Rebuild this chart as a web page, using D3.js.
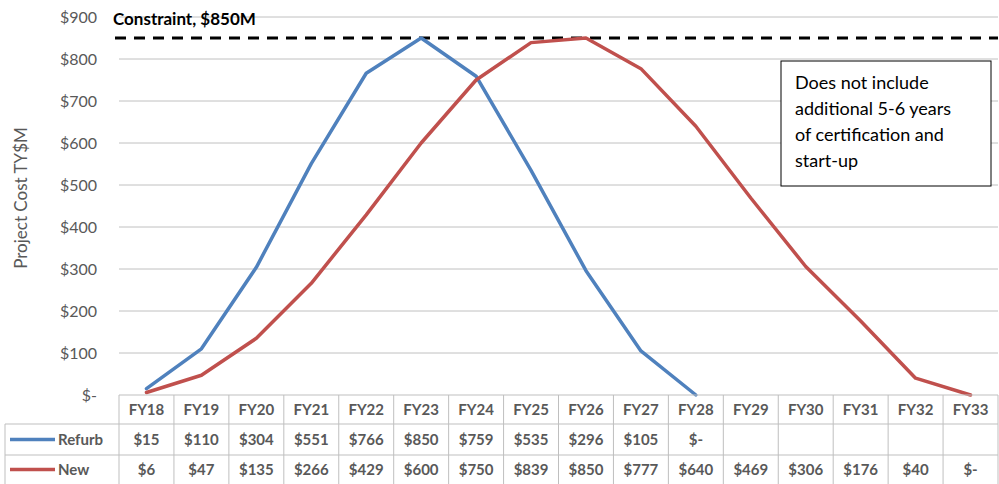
<!DOCTYPE html>
<html><head><meta charset="utf-8">
<script src="https://cdn.jsdelivr.net/npm/d3@7"></script>
<style>body{margin:0;background:#fff}svg{display:block}</style>
</head><body><svg id="c" width="999" height="484"></svg>
<script>
const categories = ["FY18","FY19","FY20","FY21","FY22","FY23","FY24","FY25","FY26","FY27","FY28","FY29","FY30","FY31","FY32","FY33"];
const refurb = [15,110,304,551,766,850,759,535,296,105,0,null,null,null,null,null];
const newVals = [6,47,135,266,429,600,750,839,850,777,640,469,306,176,40,0];
const yTicks = [0,100,200,300,400,500,600,700,800,900];
const constraint = 850;
const seriesNames = ["Refurb","New"];
const colors = ["#4F81BD","#C0504D"];
const note = ["Does not include","additional 5-6 years","of certification and","start-up"];

const svg = d3.select("#c");
const font = "Lato, 'Open Sans', sans-serif";
const L = 119, R = 998, T = 17, B = 395;
const x = d3.scaleBand().domain(categories).range([L, R]);
const y = d3.scaleLinear().domain([0, 900]).range([B, T]);
const grid = "#c0c0c0", gray = "#595959";

// horizontal gridlines
svg.append("g").selectAll("line").data(yTicks.filter(d => d > 0)).join("line")
  .attr("x1", L).attr("x2", R).attr("y1", d => y(d)).attr("y2", d => y(d))
  .attr("stroke", grid).attr("stroke-width", 1);

// y axis labels
const fmt = d => d === 0 ? "$-" : "$" + d;
svg.append("g").selectAll("text").data(yTicks).join("text")
  .attr("x", 97).attr("y", d => y(d)).attr("dy", "0.35em")
  .attr("text-anchor", "end").attr("fill", gray)
  .attr("font-family", font).attr("font-size", 16).text(fmt);

svg.append("text").attr("transform", `translate(27,198) rotate(-90)`)
  .attr("text-anchor", "middle").attr("fill", gray)
  .attr("font-family", font).attr("font-size", 17).text("Project Cost TY$M");

// constraint line
svg.append("line").attr("x1", 115).attr("x2", R).attr("y1", y(constraint)).attr("y2", y(constraint))
  .attr("stroke", "#000").attr("stroke-width", 3).attr("stroke-dasharray", "11,8");
svg.append("text").attr("x", 113).attr("y", 25).attr("font-family", font)
  .attr("font-size", 17).attr("font-weight", "bold").attr("fill", "#000").text("Constraint, $850M");

// lines
const cx = d => x(d) + x.bandwidth() / 2;
const line = d3.line().defined(d => d.v !== null).x(d => cx(d.c)).y(d => y(d.v));
[refurb, newVals].forEach((s, i) => {
  svg.append("path").datum(categories.map((c, j) => ({c, v: s[j]})))
    .attr("d", line).attr("fill", "none").attr("stroke", colors[i])
    .attr("stroke-width", 3.5).attr("stroke-linejoin", "round").attr("stroke-linecap", "round");
});

// note box
svg.append("rect").attr("x", 781).attr("y", 61).attr("width", 210).attr("height", 125)
  .attr("fill", "#fff").attr("stroke", "#000").attr("stroke-width", 1);
svg.append("g").selectAll("text").data(note).join("text")
  .attr("x", 795).attr("y", (d, i) => 89 + i * 26).attr("font-family", font)
  .attr("font-size", 18).attr("fill", "#000").text(d => d);

// data table
const rowY = [395, 424, 455, 484];
const tb = "#bfbfbf";
const tg = svg.append("g");
tg.append("line").attr("x1", L).attr("x2", R).attr("y1", rowY[0]).attr("y2", rowY[0]).attr("stroke", tb);
[1,2].forEach(k => tg.append("line").attr("x1", 5).attr("x2", R).attr("y1", rowY[k]).attr("y2", rowY[k]).attr("stroke", tb));
const vb = categories.map(c => x(c)).concat([R]);
tg.selectAll("line.v").data(vb).join("line").attr("class", "v")
  .attr("x1", d => d).attr("x2", d => d).attr("y1", rowY[0]).attr("y2", 484).attr("stroke", tb);
tg.append("line").attr("x1", 5).attr("x2", 5).attr("y1", rowY[1]).attr("y2", 484).attr("stroke", tb);

tg.selectAll("text.h").data(categories).join("text").attr("class", "h")
  .attr("x", d => cx(d)).attr("y", (rowY[0] + rowY[1]) / 2).attr("dy", "0.35em")
  .attr("text-anchor", "middle").attr("font-family", font).attr("font-size", 15)
  .attr("font-weight", "bold").attr("fill", gray).text(d => d);

[refurb, newVals].forEach((s, i) => {
  const ym = (rowY[i+1] + rowY[i+2]) / 2;
  tg.append("line").attr("x1", 10).attr("x2", 55).attr("y1", ym).attr("y2", ym)
    .attr("stroke", colors[i]).attr("stroke-width", 3.5);
  tg.append("text").attr("x", 58).attr("y", ym).attr("dy", "0.35em")
    .attr("font-family", font).attr("font-size", 15).attr("font-weight", "bold")
    .attr("fill", gray).text(seriesNames[i]);
  tg.selectAll("text.r" + i).data(categories.map((c, j) => ({c, v: s[j]})).filter(d => d.v !== null))
    .join("text").attr("class", "r" + i)
    .attr("x", d => cx(d.c)).attr("y", ym).attr("dy", "0.35em").attr("text-anchor", "middle")
    .attr("font-family", font).attr("font-size", 15).attr("font-weight", "bold")
    .attr("fill", gray).text(d => fmt(d.v));
});
</script></body></html>
